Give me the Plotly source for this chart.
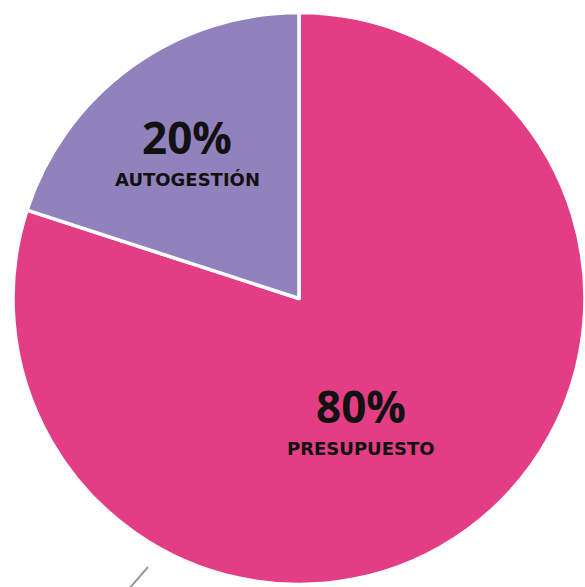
import plotly.graph_objects as go

# Datos
categorias = ["PRESUPUESTO", "AUTOGESTIÓN"]
valores = [80, 20]
colores = ["#E33D86", "#9182BE"]

W, H = 585, 587
L, T, R, B = 13, 11, 0, 1
PW, PH = W - L - R, H - T - B


def to_paper(sx, sy):
    return (sx - L) / PW, 1 - (sy - T) / PH


fig = go.Figure()

fig.add_trace(
    go.Pie(
        labels=categorias,
        values=valores,
        sort=False,
        direction="clockwise",
        rotation=0,
        marker=dict(colors=colores, line=dict(color="white", width=3.5)),
        textinfo="none",
        hoverinfo="label+percent",
        showlegend=False,
    )
)

# Etiquetas (porcentaje grande + nombre)
etiquetas = [
    (361, 406, 448),  # PRESUPUESTO
    (187, 137, 179),  # AUTOGESTIÓN
]
for (cx, y_pct, y_name), cat, val in zip(etiquetas, categorias, valores):
    px_, py_ = to_paper(cx, y_pct)
    fig.add_annotation(
        x=px_, y=py_, xref="paper", yref="paper",
        xanchor="center", yanchor="middle",
        text=f"<b>{val}%</b>", showarrow=False,
        font=dict(family="Open Sans", size=44, color="#111111"),
    )
    px_, py_ = to_paper(cx, y_name)
    fig.add_annotation(
        x=px_, y=py_, xref="paper", yref="paper",
        xanchor="center", yanchor="middle",
        text=f"<b>{cat}</b>", showarrow=False,
        font=dict(family="DejaVu Sans", size=18, color="#111111"),
    )

# línea guía gris (abajo a la izquierda)
x0, y0 = to_paper(148, 567)
x1, y1 = to_paper(128, 590)
fig.add_shape(
    type="line", xref="paper", yref="paper",
    x0=x0, y0=y0, x1=x1, y1=y1,
    line=dict(color="#9a9a9a", width=2),
)

fig.update_layout(
    width=W,
    height=H,
    margin=dict(l=L, r=R, t=T, b=B),
    paper_bgcolor="white",
    plot_bgcolor="white",
)

fig.write_html(
    "out.html",
    config={"displayModeBar": False},
    post_script="document.body.style.margin='0';document.body.style.overflow='hidden';",
)
